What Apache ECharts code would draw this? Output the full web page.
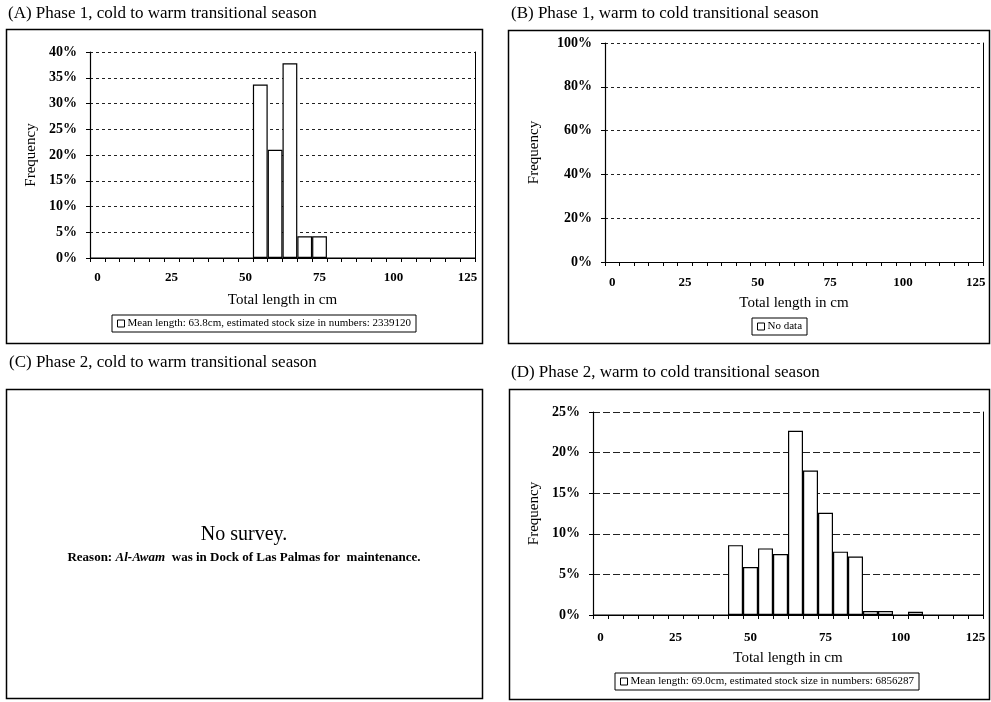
<!DOCTYPE html>
<html>
<head>
<meta charset="utf-8">
<script src="https://cdn.jsdelivr.net/npm/echarts@6/dist/echarts.min.js"></script>
<style>
  html, body { margin: 0; padding: 0; background: #fff; }
  #chart { width: 991px; height: 702px; }
</style>
</head>
<body>
<div id="chart"></div>
<script>
// Length classes (cm), 5 cm bins
const lengthBins = [0, 5, 10, 15, 20, 25, 30, 35, 40, 45, 50, 55, 60,
                    65, 70, 75, 80, 85, 90, 95, 100, 105, 110, 115, 120, 125];

// Frequency (%) per length class
const freqPhase1ColdWarm = [0, 0, 0, 0, 0, 0, 0, 0, 0, 0, 0, 33.7, 21.0,
                            37.8, 4.2, 4.2, 0, 0, 0, 0, 0, 0, 0, 0, 0, 0];
const freqPhase1WarmCold = [];
const freqPhase2WarmCold = [0, 0, 0, 0, 0, 0, 0, 0, 0, 8.6, 5.9, 8.2, 7.5,
                            22.7, 17.8, 12.6, 7.8, 7.2, 0.5, 0.5, 0, 0.4, 0, 0, 0, 0];

// Panel titles and legend texts
const panelTitles = [
  '(A) Phase 1, cold to warm transitional season',
  '(B) Phase 1, warm to cold transitional season',
  '(C) Phase 2, cold to warm transitional season',
  '(D) Phase 2, warm to cold transitional season'
];
const legendA = 'Mean length: 63.8cm, estimated stock size in numbers: 2339120';
const legendB = 'No data';
const legendD = 'Mean length: 69.0cm, estimated stock size in numbers: 6856287';

// Y axis ranges (%)
const yMaxA = 40, yStepA = 5;
const yMaxB = 100, yStepB = 20;
const yMaxD = 25, yStepD = 5;

const FONT = '"Liberation Serif", "DejaVu Serif", serif';

const chart = echarts.init(document.getElementById('chart'), null, { renderer: 'canvas' });

function xAxisFor(gridIndex, labelMargin, nameGap) {
  return {
    type: 'category',
    gridIndex: gridIndex,
    data: lengthBins,
    boundaryGap: true,
    axisLine: { show: true, lineStyle: { color: '#000', width: 1 } },
    axisTick: { show: true, interval: 0, length: 4, lineStyle: { color: '#000' } },
    axisLabel: {
      interval: 4, margin: labelMargin, color: '#000',
      fontFamily: FONT, fontSize: 13, fontWeight: 'bold'
    },
    splitLine: { show: false },
    name: 'Total length in cm',
    nameLocation: 'middle',
    nameGap: nameGap,
    nameTextStyle: { color: '#000', fontFamily: FONT, fontSize: 15 }
  };
}

function yAxisFor(gridIndex, max, step, nameGap, dash) {
  return {
    type: 'value',
    gridIndex: gridIndex,
    min: 0, max: max, interval: step,
    axisLine: { show: true, lineStyle: { color: '#000', width: 1.2 } },
    axisTick: { show: true, length: 4, lineStyle: { color: '#000' } },
    axisLabel: {
      formatter: '{value}%', margin: 13, color: '#000',
      fontFamily: FONT, fontSize: 14, fontWeight: 'bold'
    },
    splitLine: { show: true, lineStyle: { color: '#222', width: 1, type: dash } },
    name: 'Frequency',
    nameLocation: 'middle',
    nameRotate: 90,
    nameGap: nameGap,
    nameTextStyle: { color: '#000', fontFamily: FONT, fontSize: 15 }
  };
}

// Plain right-hand border of each plot area
function rightEdge(gridIndex, max) {
  return {
    type: 'value', gridIndex: gridIndex, position: 'right',
    min: 0, max: max,
    axisLine: { show: true, lineStyle: { color: '#000', width: 1 } },
    axisTick: { show: false }, axisLabel: { show: false },
    splitLine: { show: false }
  };
}

const barStyle = { color: '#fff', borderColor: '#000', borderWidth: 1.2 };

function legendFor(name, left, top) {
  return {
    data: [name],
    left: left, top: top,
    orient: 'horizontal',
    borderColor: '#000', borderWidth: 1,
    padding: [3, 5],
    itemWidth: 7, itemHeight: 7, itemGap: 4,
    icon: 'rect',
    selectedMode: false,
    itemStyle: { color: '#fff', borderColor: '#000', borderWidth: 1 },
    textStyle: { color: '#000', fontFamily: FONT, fontSize: 11, padding: [0, 0, 0, -2] }
  };
}

function frame(x, y, w, h) {
  return {
    type: 'rect',
    shape: { x: x, y: y, width: w, height: h },
    style: { fill: null, stroke: '#000', lineWidth: 1.5 },
    silent: true
  };
}

const titleStyle = { color: '#000', fontFamily: FONT, fontSize: 17, fontWeight: 'normal' };

const option = {
  backgroundColor: '#fff',
  animation: false,
  title: [
    { text: panelTitles[0], left: 8, top: 5, textStyle: titleStyle, padding: 0 },
    { text: panelTitles[1], left: 511, top: 5, textStyle: titleStyle, padding: 0 },
    { text: panelTitles[2], left: 9, top: 354, textStyle: titleStyle, padding: 0 },
    { text: panelTitles[3], left: 511, top: 364, textStyle: titleStyle, padding: 0 }
  ],
  grid: [
    { left: 90, top: 52, width: 385, height: 206 },
    { left: 605, top: 43, width: 378, height: 219 },
    { left: 593, top: 412, width: 390, height: 203 }
  ],
  xAxis: [
    xAxisFor(0, 13, 35),
    xAxisFor(1, 14, 34),
    xAxisFor(2, 16, 36)
  ],
  yAxis: [
    yAxisFor(0, yMaxA, yStepA, 51, [3, 3]),
    yAxisFor(1, yMaxB, yStepB, 63, [3, 3]),
    yAxisFor(2, yMaxD, yStepD, 51, [7, 3]),
    rightEdge(0, yMaxA),
    rightEdge(1, yMaxB),
    rightEdge(2, yMaxD)
  ],
  legend: [
    legendFor(legendA, 112, 315),
    legendFor(legendB, 752, 318),
    legendFor(legendD, 615, 673)
  ],
  series: [
    {
      name: legendA, type: 'bar', xAxisIndex: 0, yAxisIndex: 0,
      data: freqPhase1ColdWarm, barCategoryGap: '0%', itemStyle: barStyle
    },
    {
      name: legendB, type: 'bar', xAxisIndex: 1, yAxisIndex: 1,
      data: freqPhase1WarmCold, barCategoryGap: '0%', itemStyle: barStyle
    },
    {
      name: legendD, type: 'bar', xAxisIndex: 2, yAxisIndex: 2,
      data: freqPhase2WarmCold, barCategoryGap: '0%', itemStyle: barStyle
    }
  ],
  graphic: [
    frame(6.5, 29.5, 476, 314),
    frame(508.5, 30.5, 481, 313),
    frame(6.5, 389.5, 476, 309),
    frame(509.5, 389.5, 480, 310),
    {
      type: 'text',
      style: {
        text: 'No survey.', x: 244, y: 535,
        align: 'center', verticalAlign: 'middle',
        font: '20px ' + FONT, fill: '#000'
      }
    },
    {
      type: 'text',
      style: {
        x: 244, y: 558, align: 'center', verticalAlign: 'middle',
        text: '{b|Reason:} {i|Al-Awam}  {b|was in Dock of Las Palmas for  maintenance.}',
        rich: {
          b: { fontFamily: FONT, fontSize: 13, fontWeight: 'bold', fill: '#000', color: '#000' },
          i: { fontFamily: FONT, fontSize: 13, fontWeight: 'bold', fontStyle: 'italic', fill: '#000', color: '#000' }
        }
      }
    }
  ]
};

chart.setOption(option);
</script>
</body>
</html>
